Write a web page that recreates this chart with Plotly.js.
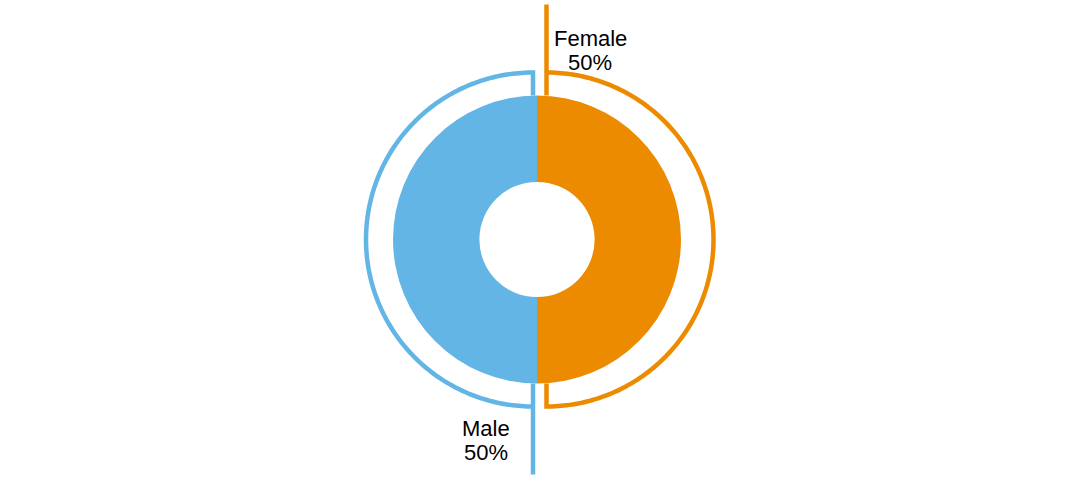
<!DOCTYPE html>
<html>
<head>
<meta charset="utf-8">
<script src="https://cdn.plot.ly/plotly-3.0.1.min.js"></script>
<style>html,body{margin:0;padding:0;background:#fff;}#chart{width:1080px;height:482px;}</style>
</head>
<body>
<div id="chart"></div>
<script>
// ---- data ----
const categories = ['Male', 'Female'];
const values = [50, 50];
const colors = ['#62B5E5', '#ED8B00'];

// ---- layout constants (pixels) ----
const W = 1080, H = 482;
const cx = 537, cy = 239.5;      // donut centre
const rOuter = 144, holeFrac = 0.4;
const rArc = 167;                // outline arc radius
const rLeader = 235;             // leader line length from centre
const explode = [4, 9.5];        // outline offset per slice
const labelDx = [-47.5, 43.5];
const labelY = [428, 38];
const lineGap = 24;

const total = values.reduce((a, b) => a + b, 0);

function pt(ox, oy, r, deg) {
  const t = deg * Math.PI / 180;
  return [ox - r * Math.sin(t), oy - r * Math.cos(t)];
}

const traces = [];
traces.push({
  type: 'pie',
  labels: categories,
  values: values,
  hole: holeFrac,
  sort: false,
  direction: 'clockwise',
  rotation: 180,
  textinfo: 'none',
  marker: { colors: colors, line: { width: 0 } },
  showlegend: false,
  domain: {
    x: [(cx - rOuter) / W, (cx + rOuter) / W],
    y: [(H - cy - rOuter) / H, (H - cy + rOuter) / H]
  }
});

const annotations = [];
const font = { family: 'Liberation Sans, Arial, sans-serif', size: 22, color: '#000' };
let cum = 0;
values.forEach((v, i) => {
  const a0 = cum / total * 360;
  const a1 = (cum + v) / total * 360;
  cum += v;
  const mid = (a0 + a1) / 2;
  const d = pt(0, 0, explode[i], mid);
  const ox = cx + d[0], oy = cy + d[1];
  const xs = [], ys = [];
  const push = p => { xs.push(p[0]); ys.push(p[1]); };
  push(pt(ox, oy, rOuter, a0));
  push(pt(ox, oy, rArc, a0));
  const n = 180;
  for (let k = 0; k <= n; k++) push(pt(ox, oy, rArc, a0 + (a1 - a0) * k / n));
  push(pt(ox, oy, rArc, a1));
  xs.push(null); ys.push(null);
  push(pt(ox, oy, rOuter, a1));
  push(pt(ox, oy, rLeader, a1));
  traces.push({
    type: 'scatter', mode: 'lines', x: xs, y: ys,
    line: { color: colors[i], width: 4.5, simplify: false },
    hoverinfo: 'skip', showlegend: false, connectgaps: false
  });
  const tip = pt(ox, oy, rLeader, a1);
  const pct = Math.round(v / total * 100);
  [categories[i], pct + '%'].forEach((t, j) => {
    annotations.push({
      x: tip[0] + labelDx[i], y: labelY[i] + j * lineGap,
      xref: 'x', yref: 'y', text: t,
      showarrow: false, xanchor: 'center', yanchor: 'middle', align: 'center',
      font: font
    });
  });
});

const layout = {
  width: W, height: H,
  margin: { l: 0, r: 0, t: 0, b: 0 },
  paper_bgcolor: '#fff', plot_bgcolor: 'rgba(0,0,0,0)',
  xaxis: { range: [0, W], visible: false, fixedrange: true },
  yaxis: { range: [H, 0], visible: false, fixedrange: true },
  annotations: annotations,
  showlegend: false
};

Plotly.newPlot('chart', traces, layout, { displayModeBar: false, staticPlot: true });
</script>
</body>
</html>
